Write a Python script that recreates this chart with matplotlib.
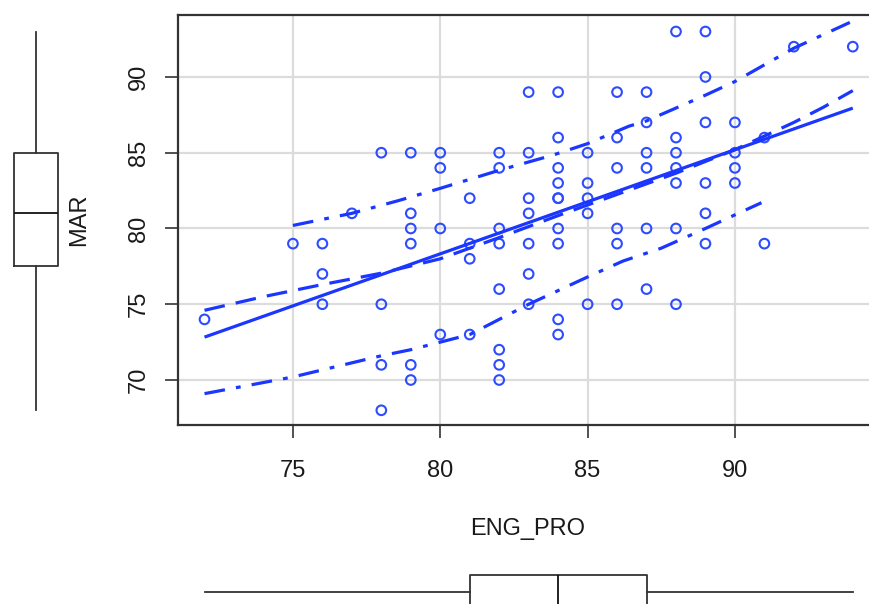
import matplotlib
matplotlib.use("Agg")
import matplotlib.pyplot as plt
import numpy as np
import math

plt.rcParams['font.family'] = ['Liberation Sans', 'DejaVu Sans']

# ---- data ----
eng_pro = [72,
           75,
           76, 76, 76,
           77,
           78, 78, 78, 78,
           79, 79, 79, 79, 79, 79,
           80, 80, 80, 80,
           81, 81, 81, 81,
           82, 82, 82, 82, 82, 82, 82, 82,
           83, 83, 83, 83, 83, 83, 83,
           84, 84, 84, 84, 84, 84, 84, 84, 84, 84,
           85, 85, 85, 85, 85,
           86, 86, 86, 86, 86, 86,
           87, 87, 87, 87, 87, 87,
           88, 88, 88, 88, 88, 88, 88,
           89, 89, 89, 89, 89, 89,
           90, 90, 90, 90,
           91, 91,
           92,
           94]
mar = [74,
       79,
       79, 77, 75,
       81,
       85, 75, 71, 68,
       85, 81, 80, 79, 71, 70,
       85, 84, 80, 73,
       82, 79, 78, 73,
       85, 84, 80, 79, 76, 72, 71, 70,
       89, 85, 82, 81, 79, 77, 75,
       89, 86, 84, 83, 82, 82, 80, 79, 74, 73,
       85, 83, 82, 81, 75,
       89, 86, 84, 80, 79, 75,
       89, 87, 85, 84, 80, 76,
       93, 86, 85, 84, 83, 80, 75,
       93, 90, 87, 83, 81, 79,
       87, 85, 84, 83,
       86, 79,
       92,
       92]

# smoother (loess) and spread lines
smooth_x = [72, 74, 76, 78, 80, 82, 84, 86, 88, 90, 91, 92, 93, 94]
smooth_y = [74.6, 75.5, 76.3, 77.05, 78.0, 79.4, 80.85, 82.25, 83.65, 85.2, 86.1, 87.0, 88.0, 89.1]
upper_x = [75, 77, 78.6, 80, 82, 83.8, 85, 86.4, 87, 89, 90, 92, 93.9]
upper_y = [80.2, 81.0, 81.85, 82.65, 83.84, 84.83, 85.6, 86.75, 87.1, 88.8, 89.7, 91.9, 93.6]
lower_x = [72, 75, 78, 79, 80, 81, 82, 83, 85, 86.2, 87.5, 89, 90, 90.9]
lower_y = [69.1, 70.2, 71.6, 72.0, 72.5, 73.0, 74.0, 75.0, 76.8, 77.85, 78.7, 80.0, 80.9, 81.7]

x_ticks = [75, 80, 85, 90]
y_ticks = [70, 75, 80, 85, 90]
x_label = "ENG_PRO"
y_label = "MAR"

# ---- figure ----
W, H = 869, 604
fig = plt.figure(figsize=(W / 100, H / 100), dpi=100)

def px_axes(l, t, r, b):
    return fig.add_axes([l / W, 1 - b / H, (r - l) / W, (b - t) / H])

def r_box_stats(values):
    v = np.sort(np.asarray(values, float))
    n = len(v)
    n4 = math.floor((n + 3) / 2) / 2
    d = [1, n4, (n + 1) / 2, n + 1 - n4, n]
    fn = [0.5 * (v[math.floor(k - 1)] + v[math.ceil(k - 1)]) for k in d]
    iqr = fn[3] - fn[1]
    lo = v[v >= fn[1] - 1.5 * iqr].min()
    hi = v[v <= fn[3] + 1.5 * iqr].max()
    return dict(med=fn[2], q1=fn[1], q3=fn[3], whislo=lo, whishi=hi, fliers=[])

line_col = '#1a36ff'
pt_col = '#2d4cff'
frame_col = '#333333'
txt_col = '#1a1a1a'
fs = 17

ax = px_axes(178, 15, 869, 425)
ax.set_xlim(71.10, 94.55)
ax.set_ylim(67.03, 94.09)
ax.grid(True, color='#dcdcdc', linewidth=1.6)
ax.set_axisbelow(True)

ax.scatter(eng_pro, mar, s=48, facecolors='none', edgecolors=pt_col, linewidths=1.5, zorder=3)

b1, b0 = np.polyfit(np.array(eng_pro, float), np.array(mar, float), 1)
xr = np.array([min(eng_pro), max(eng_pro)], float)
ax.plot(xr, b0 + b1 * xr, color=line_col, linewidth=2.3, zorder=4, solid_capstyle='butt')
ax.plot(smooth_x, smooth_y, color=line_col, linewidth=2.3, dashes=(6.5, 3.5), zorder=4)
ax.plot(upper_x, upper_y, color=line_col, linewidth=2.3, dashes=(6.5, 3.5, 1.5, 3.5), zorder=4)
ax.plot(lower_x, lower_y, color=line_col, linewidth=2.3, dashes=(6.5, 3.5, 1.5, 3.5), zorder=4)

for s in ['left', 'bottom', 'top']:
    ax.spines[s].set_color(frame_col)
    ax.spines[s].set_linewidth(1.6)
ax.spines['right'].set_visible(False)

ax.set_xticks(x_ticks)
ax.set_yticks(y_ticks)
ax.set_xticklabels([str(v) for v in x_ticks], fontsize=fs, color=txt_col)
ax.set_yticklabels([str(v) for v in y_ticks], fontsize=fs, color=txt_col, rotation=90, va='center')
ax.tick_params(axis='both', length=9.5, width=1.2, color=frame_col)
ax.tick_params(axis='x', pad=16)
ax.tick_params(axis='y', pad=11)

fig.text(528 / W, 1 - 529 / H, x_label, ha='center', va='center', fontsize=fs, color=txt_col)
fig.text(79 / W, 1 - 220 / H, y_label, ha='center', va='center', fontsize=fs, color=txt_col, rotation=90)

# ---- marginal boxplots (R-style hinges) ----
box_kw = dict(showfliers=False, showcaps=False,
              boxprops=dict(color=frame_col, linewidth=1.3),
              whiskerprops=dict(color=frame_col, linewidth=1.3, linestyle='-'),
              medianprops=dict(color='#111111', linewidth=1.3))

axl = px_axes(0, 15, 70, 425)
axl.bxp([r_box_stats(mar)], positions=[36], widths=44, vert=True, **box_kw)
axl.set_xlim(0, 70)
axl.set_ylim(ax.get_ylim())
axl.axis('off')

axb = px_axes(178, 560, 869, 604)
axb.bxp([r_box_stats(eng_pro)], positions=[12], widths=34, vert=False, **box_kw)
axb.set_ylim(0, 44)
axb.set_xlim(ax.get_xlim())
axb.axis('off')

fig.savefig('out.png', dpi=100)
